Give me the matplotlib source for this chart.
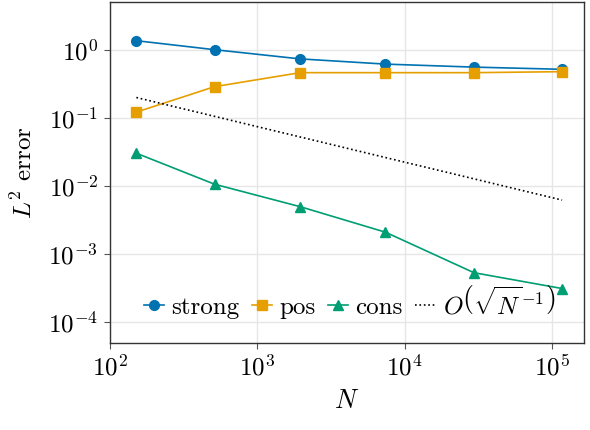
import numpy as np
import matplotlib
matplotlib.use("Agg")
import matplotlib.pyplot as plt
from matplotlib.ticker import LogLocator, NullLocator

plt.rcParams['font.family'] = ['cmr10', 'DejaVu Serif']
plt.rcParams['mathtext.fontset'] = 'cm'
plt.rcParams['axes.formatter.use_mathtext'] = True
plt.rcParams['axes.unicode_minus'] = False

# data
N = [151, 513, 1950, 7400, 29500, 117000]
strong = [1.37, 1.01, 0.74, 0.62, 0.56, 0.52]
pos = [0.122, 0.289, 0.464, 0.464, 0.464, 0.48]
cons = [0.0303, 0.0106, 0.00496, 0.00209, 0.00053, 0.00031]
ref_N = [151, 117000]
ref_err = [0.2, 0.0062]

blue = '#0072B2'
orange = '#E69F00'
green = '#009E73'

fig = plt.figure(figsize=(5.9, 4.3), dpi=100)
ax = fig.add_subplot()
fig.subplots_adjust(left=110/590, right=584/590, top=1-2/430, bottom=1-343/430)

ax.plot(N, strong, '-o', color=blue, lw=1.2, ms=7, label='strong')
ax.plot(N, pos, '-s', color=orange, lw=1.2, ms=7, label='pos')
ax.plot(N, cons, '-^', color=green, lw=1.2, ms=7.5, label='cons')
ax.plot(ref_N, ref_err, ':', color='black', lw=1.2,
        label=r'$O\left(\sqrt{N}^{-1}\right)$')

ax.set_xscale('log')
ax.set_yscale('log')
ax.set_xlim(10**2, 10**5.217)
ax.set_ylim(10**-4.31, 10**0.706)
ax.xaxis.set_major_locator(LogLocator(base=10, numticks=10))
ax.yaxis.set_major_locator(LogLocator(base=10, numticks=10))
ax.xaxis.set_minor_locator(NullLocator())
ax.yaxis.set_minor_locator(NullLocator())

ax.grid(True, color='#e6e6e6', lw=1)
ax.set_axisbelow(True)
for s in ax.spines.values():
    s.set_color('#333333')
    s.set_linewidth(1)
ax.tick_params(direction='out', length=4.5, width=0.8, color='#555555',
               labelsize=18, pad=4)

ax.set_xlabel(r'$N$', fontsize=19, labelpad=6)
ax.set_ylabel(r'$L^2$ error', fontsize=18, labelpad=8)

ax.legend(ncol=4, loc='center', bbox_to_anchor=(0.505, 0.12), frameon=False,
          fontsize=18, handlelength=0.8, handletextpad=0.3,
          columnspacing=0.5, borderpad=0.2)

fig.savefig('out.png', dpi=100)
